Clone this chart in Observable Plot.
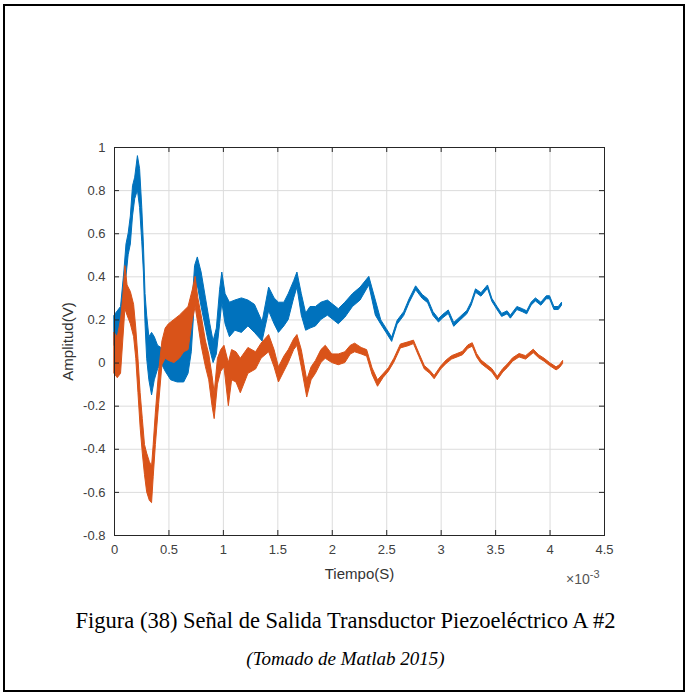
<!DOCTYPE html>
<html>
<head>
<meta charset="utf-8">
<script src="https://cdn.jsdelivr.net/npm/d3@7"></script>
<script src="https://cdn.jsdelivr.net/npm/@observablehq/plot@0.6"></script>
<style>
  html, body { margin: 0; padding: 0; background: #fff; }
  #page { position: relative; width: 691px; height: 698px; overflow: hidden; background: #fff; }
  #border { position: absolute; left: 3px; top: 4px; width: 682px; height: 688px; border: 2px solid #000; box-sizing: border-box; }
  #chart { position: absolute; left: 0; top: 0; }
  #chart svg text { font-family: "Liberation Sans", Arial, sans-serif !important; font-size: 13px !important; fill: #404040; }
  #chart svg g[aria-label="x-axis label"] text, #chart svg g[aria-label="y-axis label"] text { font-size: 15px !important; fill: #333; }
  .cap { position: absolute; left: 0; width: 691px; text-align: center; font-family: "Liberation Serif", "Times New Roman", serif; color: #000; white-space: nowrap; }
  #expo { position: absolute; left: 566px; top: 568px; font-family: "Liberation Sans", Arial, sans-serif; font-size: 14px; color: #555; }
  #expo sup { font-size: 11px; }
</style>
</head>
<body>
<div id="page">
  <div id="chart"></div>
  <div id="expo">×10<sup>-3</sup></div>
  <div class="cap" style="top:608px;font-size:22.5px">Figura (38) Señal de Salida Transductor Piezoeléctrico A #2</div>
  <div class="cap" style="top:648px;font-size:19px;font-style:italic">(Tomado de Matlab 2015)</div>
  <div id="border"></div>
</div>
<script>
// time in ms (axis shown ×10^-3 s)
const xTicks = [0, 0.5, 1, 1.5, 2, 2.5, 3, 3.5, 4, 4.5];
const yTicks = [-0.8, -0.6, -0.4, -0.2, 0, 0.2, 0.4, 0.6, 0.8, 1];

// Series 1 (blue): time, lower and upper envelope of the noisy trace
const blueT  = [0.00,0.03,0.06,0.09,0.11,0.13,0.15,0.17,0.19,0.215,0.235,0.255,0.27,0.285,0.30,0.32,0.345,0.37,0.40,0.43,0.47,0.52,0.58,0.64,0.68,0.71,0.74,0.765,0.80,0.84,0.88,0.91,0.94,0.97,0.99,1.02,1.06,1.11,1.17,1.23,1.29,1.36,1.42,1.47,1.51,1.56,1.60,1.65,1.68,1.72,1.76,1.80,1.85,1.90,1.96,2.01,2.06,2.12,2.19,2.26,2.34,2.40,2.45,2.50,2.55,2.60,2.66,2.71,2.77,2.83,2.88,2.93,2.98,3.02,3.07,3.12,3.18,3.24,3.28,3.32,3.37,3.43,3.47,3.52,3.56,3.61,3.64,3.70,3.75,3.79,3.83,3.87,3.92,3.97,4.00,4.04,4.08,4.11];
const blueLo = [0.08,0.05,0.10,0.25,0.40,0.50,0.55,0.68,0.76,0.80,0.72,0.56,0.42,0.18,0.02,-0.08,-0.15,-0.08,-0.03,0.00,-0.04,-0.08,-0.09,-0.09,-0.05,0.05,0.30,0.36,0.26,0.16,0.06,0.00,0.04,0.18,0.28,0.18,0.12,0.15,0.14,0.17,0.14,0.10,0.24,0.18,0.14,0.17,0.20,0.30,0.35,0.22,0.15,0.16,0.17,0.20,0.22,0.20,0.18,0.21,0.26,0.29,0.36,0.22,0.178,0.138,0.098,0.178,0.218,0.278,0.338,0.298,0.278,0.218,0.188,0.208,0.228,0.168,0.198,0.226,0.266,0.326,0.308,0.344,0.284,0.244,0.214,0.226,0.206,0.246,0.236,0.226,0.266,0.286,0.266,0.296,0.296,0.246,0.246,0.266];
const blueHi = [0.22,0.24,0.26,0.42,0.55,0.60,0.68,0.82,0.86,0.96,0.90,0.72,0.55,0.32,0.22,0.12,0.14,0.12,0.08,0.07,0.06,0.05,0.04,0.05,0.10,0.22,0.45,0.49,0.42,0.30,0.18,0.10,0.16,0.34,0.42,0.32,0.28,0.29,0.30,0.29,0.27,0.19,0.35,0.30,0.28,0.28,0.32,0.38,0.42,0.32,0.23,0.26,0.26,0.28,0.29,0.27,0.25,0.28,0.32,0.35,0.40,0.29,0.198,0.158,0.118,0.196,0.236,0.296,0.356,0.316,0.296,0.236,0.204,0.224,0.244,0.186,0.214,0.242,0.282,0.342,0.324,0.36,0.298,0.258,0.228,0.24,0.22,0.26,0.25,0.24,0.28,0.30,0.28,0.31,0.31,0.26,0.26,0.28];

// Series 2 (orange): time, lower and upper envelope
const redT  = [0.00,0.03,0.06,0.08,0.10,0.12,0.15,0.18,0.20,0.22,0.24,0.26,0.28,0.30,0.325,0.345,0.36,0.38,0.41,0.44,0.47,0.50,0.55,0.60,0.64,0.68,0.72,0.745,0.77,0.80,0.84,0.87,0.90,0.92,0.95,0.98,1.01,1.05,1.08,1.12,1.16,1.23,1.30,1.35,1.42,1.47,1.51,1.56,1.60,1.65,1.68,1.72,1.77,1.81,1.85,1.90,1.94,2.00,2.06,2.12,2.17,2.21,2.27,2.32,2.37,2.42,2.47,2.52,2.57,2.63,2.70,2.75,2.80,2.85,2.90,2.94,3.00,3.05,3.10,3.15,3.20,3.25,3.29,3.33,3.37,3.42,3.47,3.52,3.57,3.61,3.66,3.72,3.78,3.85,3.90,3.95,4.00,4.06,4.09,4.12];
const redLo = [-0.05,-0.07,-0.05,0.10,0.25,0.22,0.18,0.12,0.02,-0.14,-0.30,-0.42,-0.52,-0.60,-0.64,-0.65,-0.53,-0.38,-0.19,-0.01,0.02,0.01,0.00,0.02,0.05,0.06,0.20,0.26,0.18,0.08,-0.02,-0.08,-0.20,-0.26,-0.10,-0.04,-0.02,-0.20,-0.08,-0.09,-0.14,-0.05,-0.03,0.02,0.05,-0.02,-0.09,-0.04,0.00,0.06,0.08,-0.02,-0.16,-0.08,-0.05,0.00,0.02,0.00,-0.01,0.00,0.04,0.05,0.04,0.03,-0.055,-0.11,-0.07,-0.04,0.002,0.068,0.078,0.088,0.028,-0.03,-0.05,-0.075,-0.03,-0.004,0.016,0.026,0.036,0.066,0.076,0.026,-0.004,-0.024,-0.044,-0.08,-0.044,-0.024,0.006,0.026,0.016,0.046,0.022,0.006,-0.014,-0.034,-0.024,-0.004];
const redHi = [0.14,0.12,0.20,0.30,0.45,0.36,0.33,0.27,0.16,0.02,-0.14,-0.26,-0.38,-0.42,-0.46,-0.48,-0.38,-0.23,-0.04,0.10,0.16,0.18,0.20,0.22,0.24,0.26,0.34,0.40,0.30,0.22,0.10,0.04,-0.06,-0.14,0.02,0.06,0.08,0.00,0.06,0.05,0.02,0.07,0.05,0.09,0.13,0.06,-0.02,0.03,0.06,0.11,0.13,0.06,-0.08,-0.02,0.01,0.06,0.08,0.04,0.04,0.05,0.08,0.09,0.07,0.06,-0.025,-0.08,-0.052,-0.024,0.02,0.086,0.096,0.104,0.044,-0.014,-0.036,-0.06,-0.016,0.012,0.032,0.042,0.052,0.082,0.092,0.042,0.012,-0.008,-0.028,-0.064,-0.028,-0.008,0.022,0.042,0.032,0.062,0.036,0.02,0.0,-0.02,-0.01,0.01];

const blue = blueT.map((t, i) => ({t, lo: blueLo[i], hi: blueHi[i]}));
const red  = redT.map((t, i) => ({t, lo: redLo[i], hi: redHi[i]}));

const xmin = 0, xmax = 4.5, ymin = -0.8, ymax = 1;
const tx = 5 * (xmax - xmin) / 490;   // 5px tick length in x units
const ty = 5 * (ymax - ymin) / 388;   // 5px tick length in y units

const chart = Plot.plot({
  width: 691,
  height: 600,
  marginLeft: 114,
  marginRight: 87,
  marginTop: 147,
  marginBottom: 65,
  x: {domain: [xmin, xmax]},
  y: {domain: [ymin, ymax]},
  style: {fontFamily: "'Liberation Sans', Arial, sans-serif", fontSize: "13px", color: "#404040", background: "transparent", overflow: "visible"},
  marks: [
    Plot.ruleX(xTicks.slice(1, -1), {x: d => d, stroke: "#dcdcdc", strokeWidth: 1}),
    Plot.ruleY(yTicks.slice(1, -1), {y: d => d, stroke: "#dcdcdc", strokeWidth: 1}),
    Plot.areaY(blue, {x: "t", y1: "lo", y2: "hi", fill: "#0072BD", stroke: "#0072BD", strokeWidth: 1}),
    Plot.areaY(red, {x: "t", y1: "lo", y2: "hi", fill: "#D95319", stroke: "#D95319", strokeWidth: 1}),
    // inward tick marks on all four sides
    Plot.ruleX(xTicks, {x: d => d, y1: ymin, y2: ymin + ty, stroke: "#262626"}),
    Plot.ruleX(xTicks, {x: d => d, y1: ymax, y2: ymax - ty, stroke: "#262626"}),
    Plot.ruleY(yTicks, {y: d => d, x1: xmin, x2: xmin + tx, stroke: "#262626"}),
    Plot.ruleY(yTicks, {y: d => d, x1: xmax, x2: xmax - tx, stroke: "#262626"}),
    Plot.frame({stroke: "#262626", strokeWidth: 1}),
    Plot.axisX(xTicks, {tickSize: 0, tickPadding: 9, tickFormat: d => String(d), label: "Tiempo(S)", labelAnchor: "center", labelArrow: "none", labelOffset: 43}),
    Plot.axisY(yTicks, {tickSize: 0, tickPadding: 9, tickFormat: d => String(d), label: "Amplitud(V)", labelAnchor: "center", labelArrow: "none", labelOffset: 52})
  ]
});
document.getElementById("chart").appendChild(chart);
</script>
</body>
</html>
